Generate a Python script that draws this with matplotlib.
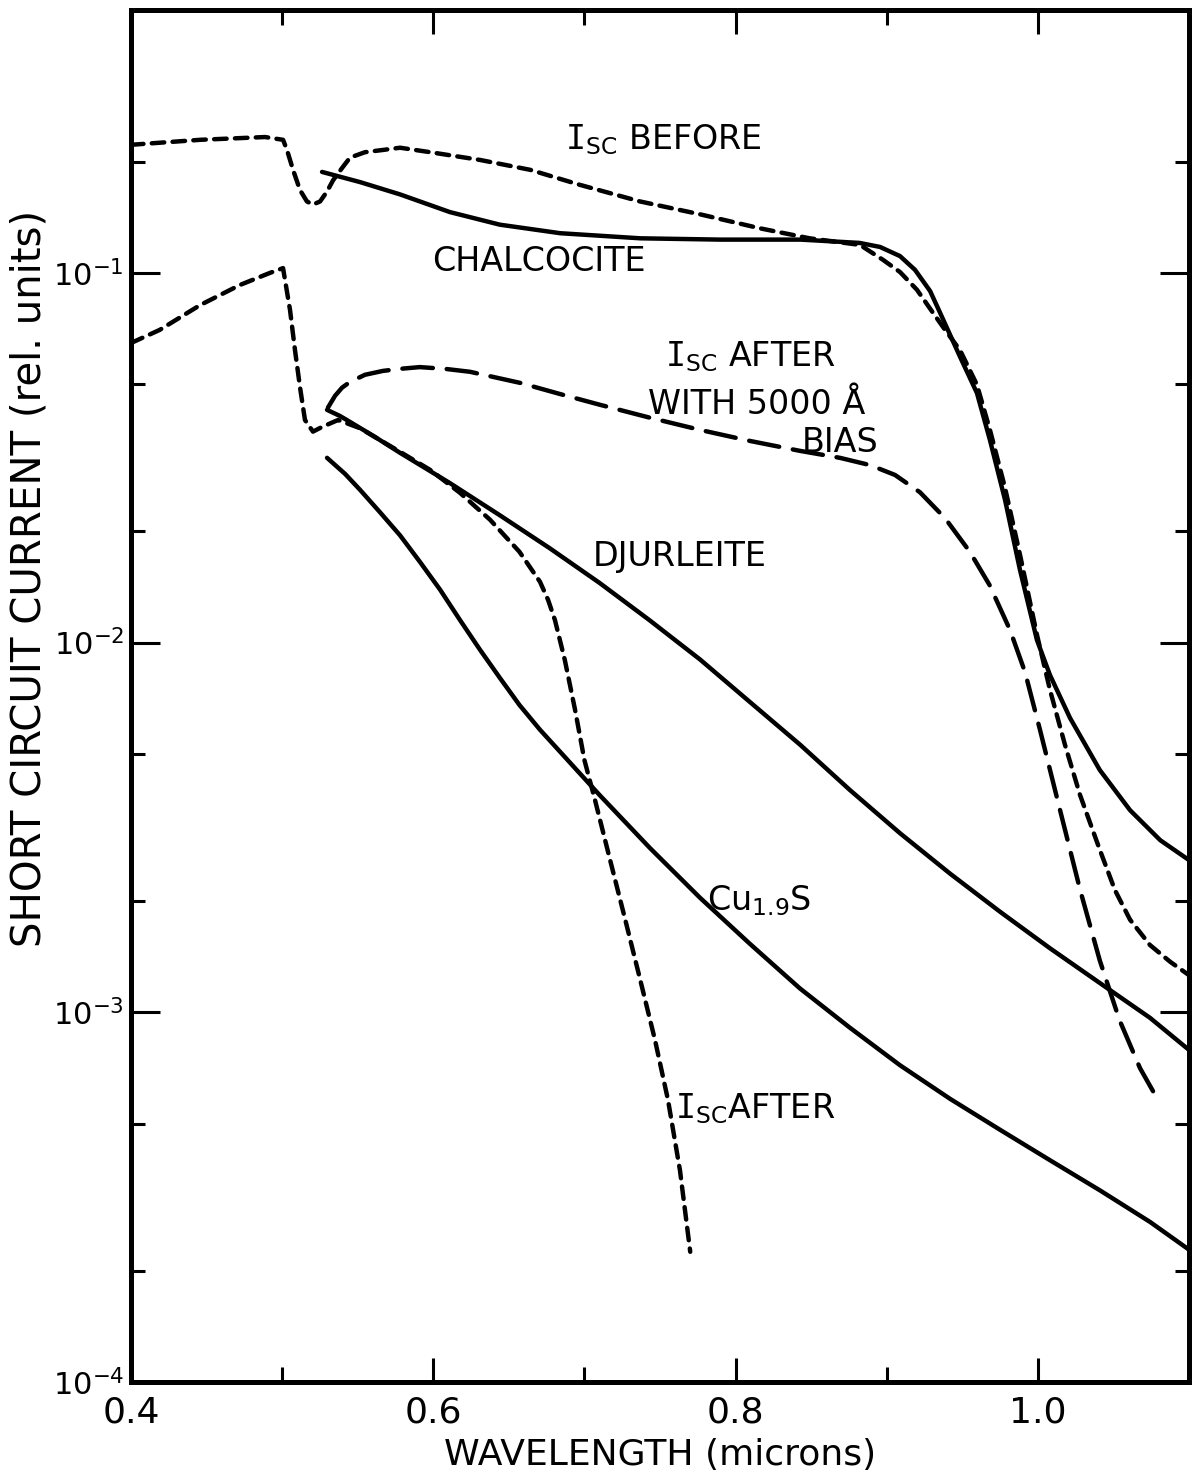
import matplotlib
matplotlib.use("Agg")
import matplotlib.pyplot as plt
from matplotlib.ticker import FixedLocator, NullFormatter, FixedFormatter

plt.rcParams['font.family'] = ['DejaVu Sans']
plt.rcParams['mathtext.fontset'] = 'dejavusans'
plt.rcParams['lines.scale_dashes'] = False

# ---- data (wavelength in microns, current in rel. units) ----
wl_before = [0.400, 0.4457, 0.4887, 0.5006, 0.5032, 0.5072, 0.5118, 0.5164, 0.5204,
             0.5251, 0.5297, 0.5337, 0.5396, 0.5449, 0.5548, 0.5667, 0.578, 0.598,
             0.631, 0.664, 0.697, 0.7368, 0.7765, 0.816, 0.849, 0.8823, 0.8976,
             0.9088, 0.920, 0.9306, 0.9386, 0.9485, 0.9597, 0.9683, 0.9783, 0.9882,
             0.9994, 1.008, 1.018, 1.0279, 1.041, 1.051, 1.061, 1.0742, 1.0875, 1.100]
isc_before = [0.222, 0.229, 0.233, 0.229, 0.215, 0.190, 0.1675, 0.156, 0.153,
              0.156, 0.166, 0.178, 0.192, 0.205, 0.212, 0.215, 0.218, 0.212,
              0.202, 0.190, 0.173, 0.156, 0.144, 0.132, 0.124, 0.119, 0.1084,
              0.1005, 0.0900, 0.0780, 0.0701, 0.0618, 0.0498, 0.0376, 0.0262, 0.01726,
              0.0105, 0.00745, 0.00528, 0.00387, 0.00275, 0.00214, 0.00178, 0.00152,
              0.00137, 0.00126]

wl_chalco = [0.5264, 0.5515, 0.578, 0.611, 0.644, 0.684, 0.737, 0.790, 0.843,
             0.882, 0.8956, 0.9088, 0.9187, 0.9287, 0.9353, 0.9485, 0.9597, 0.9683,
             0.9783, 0.9882, 0.9994, 1.008, 1.0213, 1.041, 1.061, 1.081, 1.100]
isc_chalco = [0.1875, 0.176, 0.163, 0.146, 0.135, 0.128, 0.124, 0.123, 0.123,
              0.1205, 0.1175, 0.111, 0.1019, 0.0893, 0.0780, 0.0593, 0.0473, 0.0353,
              0.0243, 0.0157, 0.01016, 0.00817, 0.00625, 0.00452, 0.00352, 0.00292,
              0.00258]

wl_after = [0.400, 0.419, 0.4457, 0.472, 0.492, 0.5006, 0.5052, 0.5085, 0.5118,
            0.5151, 0.5204, 0.5264, 0.537, 0.5515, 0.578, 0.598, 0.6177, 0.6375,
            0.657, 0.6706, 0.676, 0.6805, 0.687, 0.6938, 0.700, 0.707, 0.717, 0.727,
            0.737, 0.7467, 0.7553, 0.7632, 0.770]
isc_after = [0.0646, 0.0701, 0.0818, 0.0927, 0.100, 0.103, 0.0794, 0.0618, 0.0491,
             0.0400, 0.0372, 0.0383, 0.0400, 0.0380, 0.0328, 0.0293, 0.0254, 0.0215,
             0.0176, 0.0146, 0.01303, 0.0115, 0.00898, 0.00658, 0.00481, 0.00375,
             0.00258, 0.00178, 0.00122, 0.000841, 0.000579, 0.000374, 0.000225]

wl_bias = [0.5303, 0.535, 0.5396, 0.5449, 0.5548, 0.5667, 0.578, 0.591, 0.6078,
           0.6243, 0.6574, 0.684, 0.710, 0.743, 0.7765, 0.8096, 0.8426, 0.869,
           0.889, 0.9055, 0.922, 0.9386, 0.955, 0.968, 0.9816, 0.9915, 1.0014,
           1.0147, 1.028, 1.041, 1.054, 1.0676, 1.0795]
isc_bias = [0.0432, 0.0465, 0.0489, 0.0507, 0.0530, 0.0543, 0.0550, 0.0556, 0.0550,
            0.0540, 0.0504, 0.0470, 0.0440, 0.0406, 0.0376, 0.0351, 0.0330, 0.0316,
            0.0302, 0.0284, 0.0255, 0.0217, 0.0176, 0.01432, 0.01081, 0.00832, 0.00581,
            0.00352, 0.00214, 0.00138, 0.000953, 0.000706, 0.000579]

wl_djur = [0.5297, 0.5383, 0.545, 0.5614, 0.578, 0.611, 0.644, 0.677, 0.710, 0.743,
           0.7765, 0.8096, 0.843, 0.8757, 0.9088, 0.942, 0.975, 1.008, 1.041,
           1.0742, 1.100]
isc_djur = [0.0426, 0.0410, 0.0395, 0.0360, 0.0326, 0.0270, 0.0221, 0.0180, 0.0145,
            0.0115, 0.0090, 0.0069, 0.00528, 0.00399, 0.00305, 0.00237, 0.00187,
            0.00149, 0.00120, 0.000966, 0.000791]

wl_cu19s = [0.5297, 0.5416, 0.5515, 0.5648, 0.578, 0.5912, 0.6045, 0.6177, 0.631,
            0.6441, 0.657, 0.6706, 0.684, 0.6971, 0.710, 0.7434, 0.7765, 0.8096,
            0.8426, 0.8757, 0.9088, 0.942, 0.975, 1.008, 1.041, 1.0742, 1.100]
isc_cu19s = [0.0316, 0.0286, 0.0259, 0.0225, 0.0195, 0.01652, 0.0139, 0.0115, 0.00955,
             0.00802, 0.00678, 0.00581, 0.00506, 0.00442, 0.00387, 0.00278, 0.00204,
             0.00153, 0.00116, 0.000908, 0.000719, 0.000583, 0.000481, 0.000398,
             0.000330, 0.000271, 0.000228]

x_major = [0.4, 0.6, 0.8, 1.0]
x_minor = [0.5, 0.7, 0.9]
x_labels = ["0.4", "0.6", "0.8", "1.0"]
y_major = [1e-4, 1e-3, 1e-2, 1e-1]
y_labels = [r"$10^{-4}$", r"$10^{-3}$", r"$10^{-2}$", r"$10^{-1}$"]
y_minor = [2e-4, 5e-4, 2e-3, 5e-3, 2e-2, 5e-2, 2e-1]

# ---- figure ----
W, H = 1193, 1479
fig = plt.figure(figsize=(W / 100, H / 100), dpi=100)
ax = fig.add_axes([131 / W, 1 - 1382 / H, (1189 - 131) / W, (1382 - 10) / H])
ax.set_yscale('log')
ax.set_xlim(0.4, 1.1)
ax.set_ylim(1e-4, 0.514)

short = (0, (9, 6))
long_ = (0, (22, 10))
style = dict(color='black', lw=3.2, solid_capstyle='round', dash_capstyle='round',
             solid_joinstyle='round', dash_joinstyle='round')
ax.plot(wl_before, isc_before, linestyle=short, **style)
ax.plot(wl_chalco, isc_chalco, **style)
ax.plot(wl_after, isc_after, linestyle=short, **style)
ax.plot(wl_bias, isc_bias, linestyle=long_, **style)
ax.plot(wl_djur, isc_djur, **style)
ax.plot(wl_cu19s, isc_cu19s, **style)

# ticks
ax.xaxis.set_major_locator(FixedLocator(x_major))
ax.xaxis.set_major_formatter(FixedFormatter(x_labels))
ax.xaxis.set_minor_locator(FixedLocator(x_minor))
ax.xaxis.set_minor_formatter(NullFormatter())
ax.yaxis.set_major_locator(FixedLocator(y_major))
ax.yaxis.set_major_formatter(FixedFormatter(y_labels))
ax.yaxis.set_minor_locator(FixedLocator(y_minor))
ax.yaxis.set_minor_formatter(NullFormatter())

ax.tick_params(axis='both', which='both', direction='in', top=True, right=True,
               width=2.2, color='black')
ax.tick_params(axis='x', which='major', length=17, labelsize=26, pad=10)
ax.tick_params(axis='x', which='minor', length=11)
ax.tick_params(axis='y', which='major', length=21, labelsize=22, pad=5)
ax.tick_params(axis='y', which='minor', length=10)

for s in ax.spines.values():
    s.set_linewidth(3.6)

fig.text(660 / W, 1 - 1455 / H, "WAVELENGTH (microns)", ha='center', va='center',
         fontsize=26)
fig.text(30 / W, 1 - 578 / H, "SHORT CIRCUIT CURRENT (rel. units)", ha='center',
         va='center', rotation=90, fontsize=29)

# curve labels
isc = r"$\mathtt{I}_{\mathrm{SC}}$"
lbl = dict(fontsize=24, ha='left', va='center', color='black')
ax.text(0.687, 0.229, isc + " BEFORE", **lbl)
ax.text(0.599, 0.107, "CHALCOCITE", **lbl)
ax.text(0.7533, 0.0593, isc + " AFTER", **lbl)
ax.text(0.742, 0.044, "WITH 5000 Å", **lbl)
ax.text(0.844, 0.0347, "BIAS", **lbl)
ax.text(0.7057, 0.0171, "DJURLEITE", **lbl)
ax.text(0.781, 0.00201, r"Cu$_{1.9}$S", **lbl)
ax.text(0.760, 0.00055, isc + "AFTER", **lbl)

fig.savefig("out.png", dpi=100)
